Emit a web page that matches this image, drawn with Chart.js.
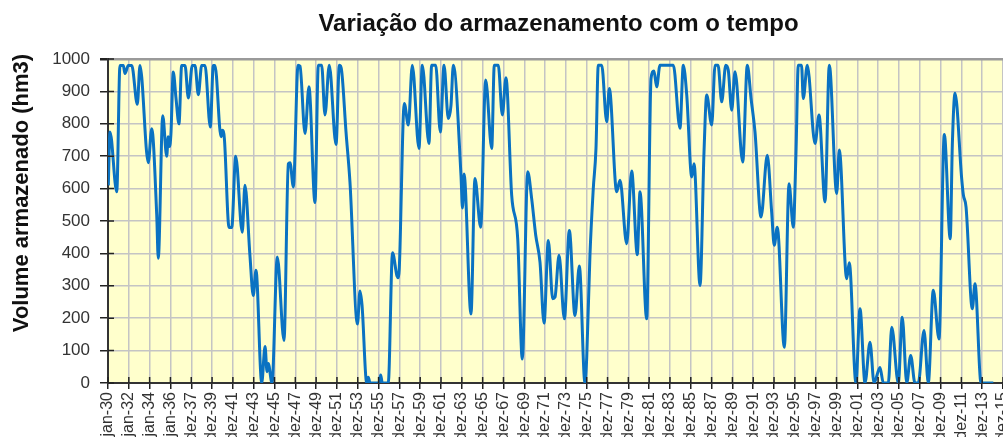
<!DOCTYPE html>
<html>
<head>
<meta charset="utf-8">
<title>Variação do armazenamento com o tempo</title>
<script src="https://cdn.jsdelivr.net/npm/chart.js@4.4.1/dist/chart.umd.min.js"></script>
<style>
  html, body { margin: 0; padding: 0; background: #ffffff; }
  #wrap { width: 1003px; height: 437px; }
</style>
</head>
<body>
<div id="wrap"><canvas id="storageChart"></canvas></div>
<script>
// Dados
const chartTitle = 'Variação do armazenamento com o tempo';
const yTitle = 'Volume armazenado (hm3)';

const tickLabels = [
    'jan-30', 'jan-32', 'jan-34', 'jan-36', 'dez-37', 'dez-39', 'dez-41', 'dez-43', 'dez-45',
    'dez-47', 'dez-49', 'dez-51', 'dez-53', 'dez-55', 'dez-57', 'dez-59', 'dez-61', 'dez-63',
    'dez-65', 'dez-67', 'dez-69', 'dez-71', 'dez-73', 'dez-75', 'dez-77', 'dez-79', 'dez-81',
    'dez-83', 'dez-85', 'dez-87', 'dez-89', 'dez-91', 'dez-93', 'dez-95', 'dez-97', 'dez-99',
    'dez-01', 'dez-03', 'dez-05', 'dez-07', 'dez-09', 'dez-11', 'dez-13', 'dez-15'
];

// tempo em anos (decimal)
const dates = [
    1930.03, 1930.19, 1930.84, 1931.15, 1931.47, 1931.63, 1931.95, 1932.28, 1932.82, 1933.07,
    1933.87, 1934.20, 1934.68, 1934.83, 1935.26, 1935.64, 1935.79, 1935.91, 1936.05, 1936.27,
    1936.53, 1936.82, 1937.08, 1937.40, 1937.72, 1938.10, 1938.36, 1938.68, 1939.00, 1939.32,
    1939.83, 1940.12, 1940.28, 1940.86, 1940.98, 1941.18, 1941.63, 1941.89, 1942.27, 1942.90,
    1943.16, 1943.64, 1943.96, 1944.22, 1944.77, 1945.09, 1945.28, 1945.40, 1945.76, 1946.27,
    1946.91, 1947.33, 1947.49, 1947.81, 1948.26, 1948.45, 1948.93, 1949.31, 1949.89, 1950.21,
    1950.53, 1950.85, 1951.26, 1951.91, 1952.23, 1952.46, 1952.87, 1953.25, 1953.97, 1954.21,
    1954.41, 1954.86, 1955.01, 1955.18, 1956.04, 1956.20, 1956.36, 1956.93, 1957.34, 1957.77,
    1957.91, 1958.47, 1958.86, 1959.24, 1959.88, 1960.20, 1960.84, 1961.10, 1961.49, 1961.93,
    1962.29, 1962.70, 1962.96, 1963.18, 1963.92, 1964.06, 1964.21, 1964.88, 1965.26, 1965.81,
    1966.29, 1966.87, 1967.12, 1967.50, 1967.89, 1968.24, 1968.79, 1969.37, 1969.81, 1970.33,
    1970.71, 1971.10, 1971.51, 1971.90, 1972.31, 1972.73, 1972.95, 1973.34, 1973.85, 1974.33,
    1974.87, 1975.29, 1975.83, 1976.00, 1976.31, 1976.63, 1976.89, 1977.11, 1977.44, 1977.92,
    1978.17, 1978.88, 1979.20, 1979.84, 1980.32, 1980.86, 1981.12, 1981.76, 1982.18, 1982.46,
    1982.72, 1983.04, 1984.32, 1984.96, 1985.28, 1985.61, 1986.09, 1986.31, 1986.89, 1987.27,
    1987.53, 1988.01, 1988.33, 1988.62, 1988.97, 1989.36, 1989.60, 1989.93, 1990.25, 1990.99,
    1991.43, 1991.79, 1992.17, 1992.75, 1993.35, 1993.77, 1994.02, 1994.31, 1994.99, 1995.44,
    1995.85, 1996.11, 1996.33, 1996.64, 1996.81, 1997.19, 1997.94, 1998.32, 1998.90, 1999.31,
    2000.02, 2000.27, 2000.98, 2001.23, 2001.87, 2002.26, 2002.74, 2003.22, 2003.61, 2004.18,
    2004.50, 2004.98, 2005.31, 2005.94, 2006.32, 2006.75, 2007.13, 2007.54, 2007.86, 2008.41,
    2008.82, 2009.30, 2009.85, 2010.36, 2010.93, 2011.13, 2011.39, 2012.03, 2012.19, 2012.45,
    2013.05, 2013.31, 2013.89, 2015.07
];

// volume armazenado (hm3)
const volumes = [
    610, 775, 590, 980, 980, 955, 980, 980, 860, 980,
    680, 785, 520, 385, 825, 700, 760, 730, 770, 960,
    880, 800, 980, 980, 880, 980, 980, 890, 980, 980,
    790, 980, 980, 760, 780, 755, 480, 480, 700, 465,
    610, 393, 270, 348, 0, 113, 35, 60, 0, 389,
    131, 677, 680, 605, 981, 978, 770, 914, 557, 981,
    981, 827, 981, 736, 981, 961, 775, 620, 182, 284,
    240, 0, 18, 0, 0, 25, 0, 0, 402, 330,
    325, 863, 796, 981, 724, 981, 739, 981, 981, 775,
    981, 816, 858, 981, 640, 540, 645, 213, 631, 481,
    935, 724, 981, 981, 827, 942, 579, 445, 74, 652,
    569, 456, 373, 185, 440, 260, 265, 394, 198, 471,
    208, 361, 0, 79, 394, 600, 724, 981, 981, 806,
    909, 590, 626, 430, 654, 396, 590, 198, 940, 963,
    914, 981, 981, 786, 981, 889, 636, 677, 301, 713,
    889, 796, 981, 981, 868, 981, 966, 842, 961, 682,
    981, 878, 775, 512, 703, 528, 425, 481, 110, 615,
    481, 713, 981, 981, 878, 981, 739, 827, 559, 981,
    585, 719, 322, 371, 0, 229, 0, 126, 0, 48,
    0, 0, 172, 0, 203, 0, 85, 0, 0, 162,
    0, 286, 136, 767, 445, 734, 894, 631, 581, 543,
    229, 306, 0, 0
];

const yTicks = [0, 100, 200, 300, 400, 500, 600, 700, 800, 900, 1000];

const fontFamily = "'Liberation Sans', Arial, sans-serif";

// Fundo amarelo da área do gráfico, marcas internas e títulos
const chartDecor = {
    id: 'chartDecor',
    beforeDraw(chart) {
        const { ctx, chartArea } = chart;
        ctx.save();
        ctx.fillStyle = '#ffffcc';
        ctx.fillRect(chartArea.left, chartArea.top, chartArea.right - chartArea.left, chartArea.bottom - chartArea.top);
        ctx.restore();
    },
    afterDraw(chart) {
        const { ctx, chartArea, scales } = chart;
        ctx.save();
        ctx.strokeStyle = '#222222';
        ctx.lineWidth = 1.5;
        ctx.beginPath();
        scales.x.ticks.forEach(t => {
            const px = scales.x.getPixelForValue(t.value);
            ctx.moveTo(px, chartArea.bottom);
            ctx.lineTo(px, chartArea.bottom - 6);
        });
        scales.y.ticks.forEach(t => {
            const py = scales.y.getPixelForValue(t.value);
            ctx.moveTo(chartArea.left, py);
            ctx.lineTo(chartArea.left + 6, py);
        });
        ctx.stroke();

        // título principal
        ctx.fillStyle = '#111111';
        ctx.font = 'bold 24px ' + fontFamily;
        ctx.textAlign = 'center';
        ctx.textBaseline = 'middle';
        ctx.fillText(chartTitle, (chartArea.left + chartArea.right) / 2 + 3, 24);

        // título do eixo y
        ctx.translate(22, 193);
        ctx.rotate(-Math.PI / 2);
        ctx.font = 'bold 22px ' + fontFamily;
        ctx.fillText(yTitle, 0, 0);
        ctx.restore();
    }
};

document.addEventListener('DOMContentLoaded', function() {
    const el = document.getElementById('storageChart');
    new Chart(el, {
        type: 'line',
        data: {
            datasets: [{
                label: yTitle,
                data: dates.map((d, i) => ({ x: d, y: volumes[i] })),
                borderColor: '#0a72c2',
                borderWidth: 3,
                pointRadius: 0,
                fill: false,
                cubicInterpolationMode: 'monotone'
            }]
        },
        options: {
            responsive: true,
            maintainAspectRatio: false,
            animation: false,
            layout: { padding: { top: 59, left: 0, right: 0, bottom: 0 } },
            plugins: {
                legend: { display: false },
                title: { display: false },
                tooltip: { enabled: false }
            },
            scales: {
                x: {
                    type: 'linear',
                    min: 1930,
                    max: 2016,
                    afterBuildTicks: function(scale) {
                        scale.ticks = tickLabels.map((_, i) => ({ value: 1930 + 2 * i }));
                    },
                    afterFit: function(scale) {
                        scale.paddingLeft = 0;
                        scale.paddingRight = 0;
                        scale.height = 54;
                    },
                    ticks: {
                        autoSkip: false,
                        minRotation: 90,
                        maxRotation: 90,
                        padding: 3,
                        color: '#333333',
                        font: { family: fontFamily, size: 16 },
                        callback: function(value, index) {
                            return tickLabels[index];
                        }
                    },
                    grid: {
                        color: '#c4c4c4',
                        lineWidth: 1.5,
                        tickColor: '#222222',
                        tickLength: 6
                    },
                    border: { color: '#333333', width: 2 }
                },
                y: {
                    min: 0,
                    max: 1000,
                    afterBuildTicks: function(scale) {
                        scale.ticks = yTicks.map(v => ({ value: v }));
                    },
                    afterFit: function(scale) {
                        scale.width = 108;
                    },
                    ticks: {
                        padding: 10,
                        color: '#333333',
                        font: { family: fontFamily, size: 17 },
                        callback: function(value) {
                            return String(value);
                        }
                    },
                    grid: {
                        color: ctx => (ctx.tick && ctx.tick.value === 1000) ? '#9a9a9a' : '#c4c4c4',
                        lineWidth: ctx => (ctx.tick && ctx.tick.value === 1000) ? 2.5 : 1.5,
                        tickColor: '#222222',
                        tickLength: 8
                    },
                    border: { color: '#333333', width: 2 }
                }
            }
        },
        plugins: [chartDecor]
    });
});
</script>
</body>
</html>
